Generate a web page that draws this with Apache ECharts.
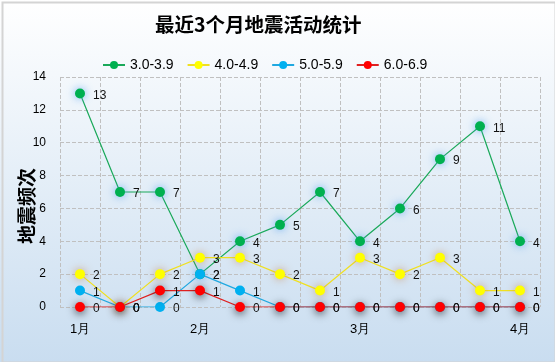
<!DOCTYPE html>
<html><head><meta charset="utf-8">
<script src="https://cdn.jsdelivr.net/npm/echarts@6/dist/echarts.min.js"></script>
<style>html,body{margin:0;padding:0;}#c{width:555px;height:362px;}</style>
</head><body><div id="c"></div>
<script>
var categories = ['1/1','1/11','1/21','2/1','2/8','2/15','2/22','3/1','3/8','3/15','3/22','4/1'];
var seriesNames = ['3.0-3.9','4.0-4.9','5.0-5.9','6.0-6.9'];
var m3 = [13, 7, 7, 2, 4, 5, 7, 4, 6, 9, 11, 4];
var m4 = [2, 0, 2, 3, 3, 2, 1, 3, 2, 3, 1, 1];
var m5 = [1, 0, 0, 2, 1, 0, 0, 0, 0, 0, 0, 0];
var m6 = [0, 0, 1, 1, 0, 0, 0, 0, 0, 0, 0, 0];
var yTicks = [0, 2, 4, 6, 8, 10, 12, 14];

var colors = ['#00b050', '#ffff00', '#00b0f0', '#ff0000'];
var glow = ['rgba(80,160,240,0.8)', 'rgba(200,130,70,0.7)', 'rgba(0,0,0,0)', 'rgba(0,0,0,0.7)'];
var lineColors = ['#1aa95a', '#f0e020', '#20a8e0', '#e02020'];
var datas = [m3, m4, m5, m6];

var chart = echarts.init(document.getElementById('c'));
var series = datas.map(function (d, i) {
  return {
    name: seriesNames[i],
    type: 'line',
    data: d,
    symbol: 'circle',
    symbolSize: 10,
    lineStyle: { width: 1.2, color: lineColors[i] },
    itemStyle: { color: colors[i], shadowBlur: 8, shadowColor: glow[i], shadowOffsetY: i === 3 ? 2 : 0 },
    label: { show: true, position: 'right', distance: 8, color: '#111', fontSize: 12, offset: [0, 2] },
    emphasis: { disabled: true },
    animation: false
  };
});

chart.setOption({
  backgroundColor: {
    type: 'linear', x: 0, y: 0, x2: 0, y2: 1,
    colorStops: [{ offset: 0, color: '#ffffff' }, { offset: 1, color: '#c9ddf0' }]
  },
  graphic: [{
    type: 'rect', left: 0, top: 0, silent: true,
    shape: { x: 1, y: 1, width: 553, height: 360 },
    style: { fill: 'none', stroke: '#d4d4d4', lineWidth: 2 }
  }],
  title: {
    text: '最近3个月地震活动统计',
    left: 150, top: 10,
    textStyle: { fontSize: 19.5, fontWeight: 'bold', color: '#000', fontFamily: 'Noto Sans CJK SC' }
  },
  legend: {
    top: 53, left: 97,
    itemWidth: 22, itemHeight: 10, itemGap: 13,
    textStyle: { fontSize: 14, color: '#000' },
    data: seriesNames
  },
  grid: { left: 60, right: 15, top: 77, bottom: 55, outerBoundsMode: 'none', containLabel: false },
  xAxis: {
    type: 'category',
    data: categories,
    boundaryGap: true,
    axisLine: { show: false },
    axisTick: { show: false },
    splitLine: { show: true, interval: 0, lineStyle: { type: 'dashed', color: '#c0c0c0' } },
    axisLabel: {
      interval: 0, margin: 16, fontSize: 13, color: '#000',
      formatter: function (v) { var p = v.split('/'); return p[1] === '1' ? p[0] + '月' : ''; }
    }
  },
  yAxis: {
    type: 'value', min: 0, max: 14, interval: 2,
    name: '地震频次', nameLocation: 'middle', nameGap: 24, nameRotate: 90, nameMoveOverlap: false,
    nameTextStyle: { fontSize: 19, fontWeight: 'bold', color: '#000', fontFamily: 'Noto Sans CJK SC', padding: [0, 28, 0, 0] },
    axisLine: { show: false },
    axisTick: { show: false },
    axisLabel: { fontSize: 12, color: '#000', margin: 14 },
    splitLine: { lineStyle: { type: 'dashed', color: '#c0c0c0' } }
  },
  series: series
});
</script>
</body></html>
